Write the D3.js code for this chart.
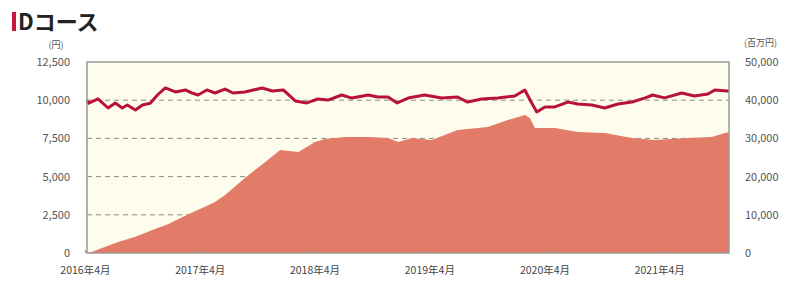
<!DOCTYPE html>
<html>
<head>
<meta charset="utf-8">
<script src="https://cdn.jsdelivr.net/npm/d3@7"></script>
<style>
  body { margin: 0; background: #fff; }
  svg text { font-family: "Noto Sans CJK JP", "Noto Sans", sans-serif; }
</style>
</head>
<body>
<div id="chart"></div>
<script>
// 基準価額 (円) - left axis
var navDates = ["2016-04-06","2016-04-10","2016-05-11","2016-06-12","2016-07-05","2016-07-27","2016-08-12","2016-09-07",
  "2016-09-29","2016-10-24","2016-11-16","2016-12-11","2017-01-12","2017-02-13","2017-03-06","2017-03-25",
  "2017-04-22","2017-05-18","2017-06-19","2017-07-14","2017-08-21","2017-10-15","2017-11-16","2017-12-21",
  "2018-01-28","2018-03-06","2018-04-10","2018-05-12","2018-06-25","2018-07-27","2018-09-17","2018-10-18",
  "2018-11-19","2018-12-18","2019-01-22","2019-03-15","2019-05-09","2019-06-28","2019-07-30","2019-09-13",
  "2019-11-03","2019-12-27","2020-01-28","2020-02-17","2020-03-06","2020-04-01","2020-05-02","2020-06-13",
  "2020-07-14","2020-08-28","2020-10-08","2020-11-19","2021-01-03","2021-02-14","2021-03-09","2021-04-16",
  "2021-06-10","2021-07-20","2021-09-01","2021-09-23","2021-11-01","2021-11-07"];
var navValues = [10000,9800,10080,9490,9820,9490,9690,9360,
  9690,9800,10340,10800,10540,10670,10470,10340,
  10670,10470,10730,10470,10540,10800,10600,10670,
  9950,9820,10080,10010,10340,10140,10340,10210,
  10210,9820,10140,10340,10150,10210,9880,10080,
  10150,10280,10670,9880,9230,9560,9560,9880,
  9750,9690,9490,9750,9880,10150,10340,10150,
  10470,10280,10410,10670,10600,10600];

// 純資産総額 (百万円) - right axis
var assetDates = ["2016-04-06","2016-04-22","2016-07-14","2016-09-07","2016-10-31","2016-12-21","2017-02-04","2017-04-07",
  "2017-05-18","2017-06-19","2017-08-21","2017-10-25","2017-12-11","2018-02-07","2018-04-01","2018-05-02",
  "2018-07-05","2018-09-17","2018-11-19","2018-12-21","2019-02-03","2019-04-07","2019-06-28","2019-10-02",
  "2019-12-05","2020-01-28","2020-02-13","2020-02-29","2020-05-02","2020-07-14","2020-10-08","2021-01-03",
  "2021-03-15","2021-06-28","2021-09-13","2021-10-25","2021-11-07"];
var assetValues = [0,300,2880,4270,6020,7590,9430,11780,
  13350,15180,19640,23820,26970,26440,29060,29850,
  30370,30370,30100,29060,30100,29580,32200,33000,
  34820,36130,35340,32720,32720,31680,31420,30100,
  29580,30100,30370,31420,31600];

var leftTicks = [0, 2500, 5000, 7500, 10000, 12500];
var rightTicks = [0, 10000, 20000, 30000, 40000, 50000];
var gridTicks = [2500, 5000, 7500, 10000];
var xTickDates = ["2016-04-01","2017-04-01","2018-04-01","2019-04-01","2020-04-01","2021-04-01"];
var xTickLabels = ["2016年4月","2017年4月","2018年4月","2019年4月","2020年4月","2021年4月"];

var parse = d3.timeParse("%Y-%m-%d");

var width = 795, height = 285;
var margin = { top: 62, right: 66, bottom: 32, left: 87 },
    w = width - margin.left - margin.right,
    h = height - margin.top - margin.bottom;

var svg = d3.select("#chart").append("svg")
    .attr("width", width)
    .attr("height", height);

// title
svg.append("rect")
    .attr("x", 12).attr("y", 12)
    .attr("width", 4).attr("height", 19)
    .attr("fill", "#c8163f");
svg.append("text")
    .attr("x", 18).attr("y", 30)
    .style("font-size", "22px")
    .style("font-weight", "bold")
    .style("fill", "#222")
    .text("Dコース");

var g = svg.append("g")
    .attr("transform", "translate(" + margin.left + "," + margin.top + ")");

var x = d3.scaleTime()
    .domain([parse("2016-04-06"), parse("2021-11-07")])
    .range([0, w]);

var yL = d3.scaleLinear().domain([0, 12500]).range([h, 0]);
var yR = d3.scaleLinear().domain([0, 50000]).range([h, 0]);

g.append("rect")
    .attr("width", w)
    .attr("height", h)
    .attr("fill", "#fefcec");

// dashed grid
g.selectAll(".grid")
    .data(gridTicks)
    .enter()
    .append("line")
    .attr("x1", 0).attr("x2", w)
    .attr("y1", function(d) { return yL(d); })
    .attr("y2", function(d) { return yL(d); })
    .attr("stroke", "#8a8d80")
    .attr("stroke-width", 1)
    .attr("stroke-dasharray", "5,4");

var assets = assetDates.map(function(d, i) { return { date: parse(d), v: assetValues[i] }; });
var nav = navDates.map(function(d, i) { return { date: parse(d), v: navValues[i] }; });

g.append("path")
    .datum(assets)
    .attr("d", d3.area()
        .x(function(d) { return x(d.date); })
        .y0(h)
        .y1(function(d) { return yR(d.v); }))
    .attr("fill", "#e27c68");

g.append("path")
    .datum(nav)
    .attr("d", d3.line()
        .x(function(d) { return x(d.date); })
        .y(function(d) { return yL(d.v); }))
    .attr("fill", "none")
    .attr("stroke", "#b8123c")
    .attr("stroke-width", 3)
    .attr("stroke-linejoin", "round");

// border
g.append("rect")
    .attr("width", w)
    .attr("height", h)
    .attr("fill", "none")
    .attr("stroke", "#9a9a92")
    .attr("stroke-width", 1.5);

// x ticks (small, inside)
g.selectAll(".xtick")
    .data(xTickDates)
    .enter()
    .append("line")
    .attr("x1", function(d) { return x(parse(d)); })
    .attr("x2", function(d) { return x(parse(d)); })
    .attr("y1", h).attr("y2", h - 3)
    .attr("stroke", "#9a9a92");

g.selectAll(".xlabel")
    .data(xTickDates)
    .enter()
    .append("text")
    .attr("x", function(d) { return x(parse(d)); })
    .attr("y", h + 21)
    .attr("text-anchor", "middle")
    .style("font-size", "10.5px")
    .style("fill", "#444")
    .text(function(d, i) { return xTickLabels[i]; });

// left axis labels
g.selectAll(".ylabel")
    .data(leftTicks)
    .enter()
    .append("text")
    .attr("x", -17)
    .attr("y", function(d) { return yL(d) + 4; })
    .attr("text-anchor", "end")
    .style("font-size", "11px")
    .style("fill", "#555")
    .text(function(d) { return d3.format(",")(d); });

// right axis labels
g.selectAll(".rlabel")
    .data(rightTicks)
    .enter()
    .append("text")
    .attr("x", w + 16)
    .attr("y", function(d) { return yR(d) + 4; })
    .style("font-size", "11px")
    .style("fill", "#555")
    .text(function(d) { return d3.format(",")(d); });

// unit labels
svg.append("text")
    .attr("x", 56).attr("y", 48)
    .attr("text-anchor", "middle")
    .style("font-size", "9px")
    .style("fill", "#555")
    .text("(円)");
svg.append("text")
    .attr("x", 744).attr("y", 46)
    .style("font-size", "9px")
    .style("fill", "#555")
    .text("(百万円)");
</script>
</body>
</html>
